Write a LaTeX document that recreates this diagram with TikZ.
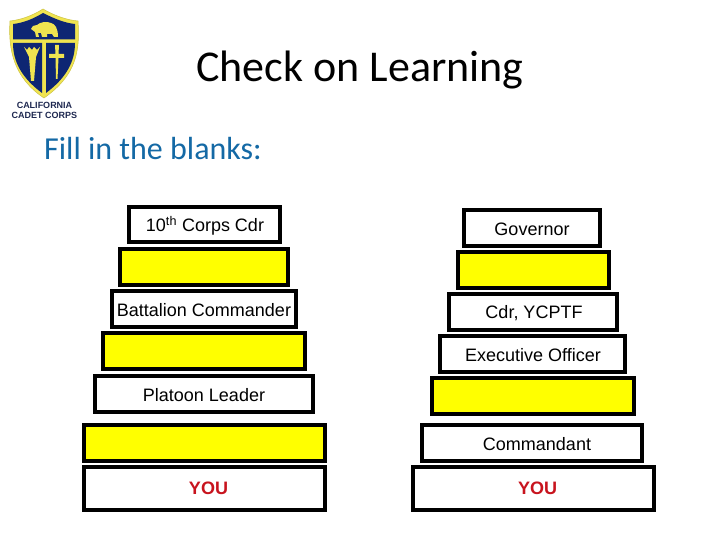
\documentclass[tikz,border=0pt]{standalone}
\usepackage{fontspec}
\setmainfont{Liberation Sans}
\newfontfamily\calfont{Carlito}
\definecolor{shieldblue}{RGB}{14,38,115}
\definecolor{shieldgold}{RGB}{240,228,80}
\definecolor{subblue}{RGB}{20,105,165}
\definecolor{youred}{RGB}{200,20,30}
\definecolor{logotext}{RGB}{30,40,80}
\definecolor{blankyellow}{RGB}{255,255,0}
\tikzset{
  rung/.style={draw=black,line width=4pt,inner sep=0pt,outer sep=0pt,anchor=north west,fill=white},
  blank/.style={rung,fill=blankyellow},
  ruletext/.style={font=\fontsize{18}{20}\selectfont,text=black,inner sep=0pt},
  youtext/.style={font=\fontsize{18}{20}\selectfont\bfseries,text=youred,inner sep=0pt},
}
% #1 name, #2 style, #3 left, #4 top, #5 right, #6 bottom (outer edges in px)
\newcommand{\rungbox}[6]{%
  \pgfmathsetmacro{\rw}{#5-#3-4}\pgfmathsetmacro{\rh}{#6-#4-4}%
  \node[#2,minimum width=\rw pt,minimum height=\rh pt] (#1) at (#3+2,#4+2) {};}
\begin{document}
\begin{tikzpicture}[x=1pt,y=-1pt]
\useasboundingbox (0,0) rectangle (720,540);
% logo
\path[fill=shieldgold,draw=shieldgold!85!black,line width=0.5pt]
  (10,21) .. controls (20,20) and (32,16) .. (43,9) .. controls (55,16) and (67,20) .. (78,21)
  .. controls (80,50) and (77,75) .. (44,98) .. controls (14,78) and (8,50) .. (10,21) -- cycle;
\path[fill=shieldblue]
  (13,24) .. controls (23,23) and (33,19) .. (43,13) .. controls (55,19) and (65,23) .. (75,24)
  -- (75,39.5) -- (13,39.5) -- cycle;
\path[fill=shieldblue]
  (13,43) -- (42,43) -- (42,93) .. controls (22,78) and (13,62) .. (13,43) -- cycle;
\path[fill=shieldblue]
  (46,43) -- (75,43) .. controls (75,62) and (66,78) .. (46,93) -- cycle;
% bear
\path[fill=shieldgold] (31,29) -- (33,26) -- (37,25) .. controls (40,22) and (47,21) .. (51,23)
  .. controls (55,24) and (58,28) .. (58,37)
  -- (54,37) -- (52,34) -- (47,34) -- (47,37) -- (42,37) -- (41,33) -- (38,33) -- (39,37) -- (36,37)
  -- (35,32) -- cycle;
% torch
\path[fill=shieldgold] (24,47) -- (27,50) -- (29,47) -- (32,50) -- (34,47) -- (37,50) -- (40,47) -- (36,57) -- (34,81) -- (31,81) -- (29,57) -- cycle;
% sword
\path[fill=shieldgold] (55,45) -- (59,45) -- (58.5,54) -- (64,54) -- (64,58) -- (58.5,58) -- (57.5,79) -- (56,79) -- (55.5,58) -- (49,58) -- (49,54) -- (55.5,54) -- cycle;
\node[inner sep=0pt,align=center,font=\fontsize{9}{10}\selectfont\bfseries,text=logotext] (logotxt) at (44.5,110) {CALIFORNIA\\CADET CORPS};
% headings
\node[inner sep=0pt,font=\calfont\fontsize{44}{50}\selectfont,text=black] (title) at (360,70) {Check on Learning};
\node[inner sep=0pt,anchor=base west,font=\calfont\fontsize{32}{36}\selectfont,text=subblue] (sub) at (44,160) {Fill in the blanks:};
% left ladder
\rungbox{la}{rung}{127}{205}{282}{244}
\rungbox{lb}{blank}{118}{247}{290}{287}
\rungbox{lc}{rung}{110}{289}{298}{329}
\rungbox{ld}{blank}{101}{331}{307}{371}
\rungbox{le}{rung}{93}{374}{315}{414}
\rungbox{lf}{blank}{82}{423}{327}{463}
\rungbox{lg}{rung}{82}{465}{327}{512}
% right ladder
\rungbox{ra}{rung}{462}{208}{602}{248}
\rungbox{rb}{blank}{456}{250}{611}{290}
\rungbox{rc}{rung}{447}{292}{619}{332}
\rungbox{rd}{rung}{438}{334}{627}{374}
\rungbox{re}{blank}{430}{376}{636}{416}
\rungbox{rf}{rung}{420}{423}{644}{463}
\rungbox{rg}{rung}{411}{465}{656}{512}
% labels
\node[ruletext] (tla) at (205,226) {10\textsuperscript{th} Corps Cdr};
\node[ruletext] (tlc) at (204,310) {Battalion Commander};
\node[ruletext] (tle) at (204,395) {Platoon Leader};
\node[youtext] (tlg) at (208.5,488.5) {YOU};
\node[ruletext] (tra) at (532,229) {Governor};
\node[ruletext] (trc) at (534,313.5) {Cdr, YCPTF};
\node[ruletext] (trd) at (533,355) {Executive Officer};
\node[ruletext] (trf) at (537,444) {Commandant};
\node[youtext] (trg) at (537.5,488.5) {YOU};
\end{tikzpicture}
\end{document}
